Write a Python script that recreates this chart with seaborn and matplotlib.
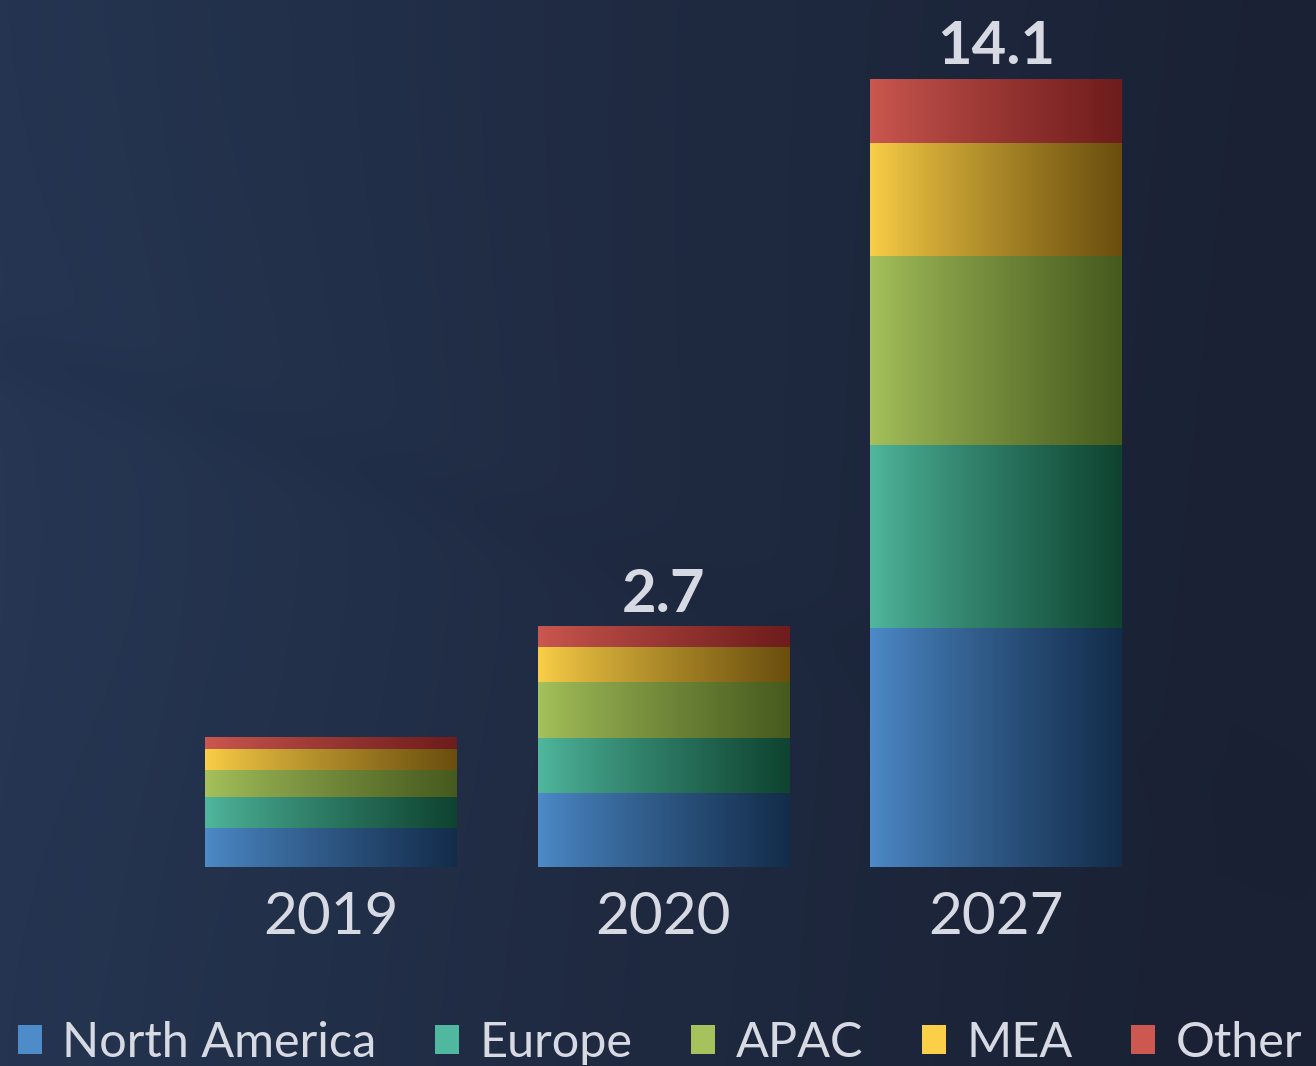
import numpy as np
import matplotlib
matplotlib.use("Agg")
import matplotlib.pyplot as plt
import matplotlib.patches as mpatches
import seaborn as sns

# ---------------- data ----------------
years = ["2019", "2020", "2027"]
regions = ["North America", "Europe", "APAC", "MEA", "Other"]
north_america = [0.70, 1.33, 4.28]
europe = [0.56, 0.99, 3.28]
apac = [0.48, 0.99, 3.39]
mea = [0.38, 0.63, 2.03]
other = [0.20, 0.36, 1.13]
total_labels = ["", "2.7", "14.1"]

series = [north_america, europe, apac, mea, other]

# colour ramps (left -> right) per region
left_cols = ["#4d8bc9", "#50b89e", "#a6c25c", "#fbd048", "#cc5850"]
right_cols = ["#132c4a", "#0e4330", "#465a1e", "#6a4e0e", "#6e1c1c"]
mid_cols = ["#2a5a8e", "#2a7e68", "#7a9440", "#b8901e", "#a03a34"]

TXT = "#d7dae2"

sns.set_theme(style="white")
plt.rcParams["font.family"] = ["Lato", "DejaVu Sans"]

W, H, DPI = 1316, 1066, 100
fig = plt.figure(figsize=(W / DPI, H / DPI), dpi=DPI)

# ---------------- background ----------------
bg_ax = fig.add_axes([0, 0, 1, 1], zorder=-5)
yy, xx = np.mgrid[0:1:400j, 0:1:500j]
left_bg = np.array([0x25, 0x35, 0x51]) / 255.0
right_bg = np.array([0x1a, 0x21, 0x34]) / 255.0
g = np.clip(xx * 1.05 + 0.1 * (yy - 0.5) * (xx), 0, 1) ** 0.9
img = left_bg[None, None, :] * (1 - g[..., None]) + right_bg[None, None, :] * g[..., None]
# soft lighter glow on the left-middle
glow = np.exp(-(((xx - 0.08) / 0.35) ** 2 + ((yy - 0.5) / 0.3) ** 2)) * 0.5
img = img + glow[..., None] * np.array([0.012, 0.014, 0.018])
# faint diagonal wave streak
streak = np.exp(-((yy - (0.33 + 0.45 * xx ** 1.1)) / 0.035) ** 2) * (1 - xx)
img = img - streak[..., None] * 0.010
img = np.clip(img, 0, 1)
bg_ax.imshow(img, extent=[0, 1, 0, 1], aspect="auto", origin="upper",
             interpolation="bilinear")
bg_ax.set_axis_off()

# ---------------- bars ----------------
ax = fig.add_axes([0, (1066 - 867) / 1066, 1, 867 / 1066])
ax.patch.set_visible(False)

cums = np.cumsum(np.array(series), axis=0)
bar_w = 0.755
# draw from the top layer down so lower layers sit in front
for i in reversed(range(len(regions))):
    sns.barplot(x=years, y=cums[i], color=mid_cols[i], width=bar_w,
                ax=ax, saturation=1, linewidth=0, zorder=2)

# gradient overlay on each segment
t = np.linspace(0, 1, 256)
f = t ** 0.85
for i in range(len(regions)):
    lc = np.array(matplotlib.colors.to_rgb(left_cols[i]))
    rc = np.array(matplotlib.colors.to_rgb(right_cols[i]))
    grad = (lc[None, :] * (1 - f[:, None]) + rc[None, :] * f[:, None])[None, :, :]
    for j in range(len(years)):
        bottom = cums[i - 1][j] if i > 0 else 0.0
        top = cums[i][j]
        ax.imshow(grad, extent=[j - bar_w / 2, j + bar_w / 2, bottom, top],
                  aspect="auto", zorder=3 + i * 0.01, interpolation="bilinear")

# total labels
for j, lab in enumerate(total_labels):
    if lab:
        ax.annotate(lab, (j, cums[-1][j]), xytext=(0, 11), textcoords="offset points",
                    ha="center", va="baseline", fontsize=43, fontweight="bold",
                    color=TXT)

px_per_unit = 787 / 14.1
ax.set_ylim(0, 867 / px_per_unit)
ax.set_xlim(-331 / 332.5, (1316 - 331) / 332.5)
ax.set_aspect("auto")
for s in ax.spines.values():
    s.set_visible(False)
ax.set_yticks([])
ax.set_xlabel("")
ax.set_ylabel("")
ax.tick_params(axis="x", length=0, pad=17, labelsize=42, labelcolor=TXT)

# ---------------- legend ----------------
handles = [mpatches.Patch(facecolor=left_cols[i], edgecolor="none", label=regions[i])
           for i in range(len(regions))]
leg = fig.legend(handles=handles, loc="center", bbox_to_anchor=(0.5015, 0.022), ncol=5,
                 frameon=False, fontsize=35, handlelength=0.5, handleheight=0.55,
                 handletextpad=0.42, columnspacing=1.2, borderaxespad=0, borderpad=0)
for txt in leg.get_texts():
    txt.set_color(TXT)

fig.savefig("out.png", dpi=DPI)
